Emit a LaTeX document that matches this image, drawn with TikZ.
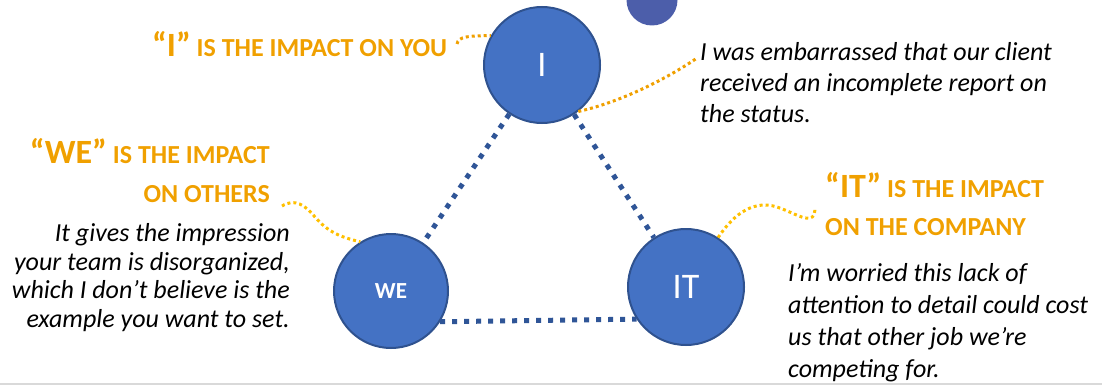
\documentclass[tikz,border=0pt]{standalone}
\usepackage{fontspec}
\setmainfont{Carlito}
\definecolor{circblue}{RGB}{68,114,196}
\definecolor{circedge}{RGB}{47,82,143}
\definecolor{cornerblue}{RGB}{76,94,170}
\definecolor{linkblue}{RGB}{47,85,151}
\definecolor{headorange}{RGB}{240,160,0}
\definecolor{linkyellow}{RGB}{255,192,0}
\newcommand{\headbig}[1]{{\fontsize{34}{36}\selectfont #1}}
\tikzset{
  bubble/.style={circle,fill=circblue,draw=circedge,line width=2pt,minimum size=116pt,inner sep=0pt,text=white},
  link/.style={draw=linkblue,line width=5pt,dash pattern=on 5pt off 7pt},
  callout/.style={line width=3pt,dash pattern=on 3pt off 3pt},
  head/.style={text=headorange,font=\bfseries\fontsize{26}{30}\selectfont,inner sep=0pt},
  quote/.style={inner sep=0pt},
}
\begin{document}
\begin{tikzpicture}[x=1pt,y=-1pt]
  \useasboundingbox (0,0) rectangle (1102,385);
  \node[bubble,fill=cornerblue,draw=none,minimum size=51pt] (corner) at (652,0) {};
  \node[bubble,font=\fontsize{36}{38}\selectfont] (i) at (542,65) {I};
  \node[bubble,font=\bfseries\fontsize{23}{24}\selectfont,minimum size=114pt] (we) at (391,291) {WE};
  \node[bubble,font=\fontsize{36}{38}\selectfont] (it) at (686,287) {IT};

  \draw[link] (i) -- (we);
  \draw[link] (i) -- (it);
  \draw[link] (we.-32) -- (it.-147);

  \node[head,anchor=base west] (youhead) at (152,57) {\headbig{“I”} IS THE IMPACT ON YOU};
  \node[head,anchor=base east] (wehead) at (270,163) {\headbig{“WE”} IS THE IMPACT};
  \node[head,anchor=base east] (wehead2) at (270,202) {ON OTHERS};
  \node[head,anchor=base west] (ithead) at (825,197) {\headbig{“IT”} IS THE IMPACT};
  \node[head,anchor=base west] (ithead2) at (825,235) {ON THE COMPANY};

  % multi-line nodes sit on the baseline of their last line
  \node[quote,align=left,anchor=base west,font=\itshape\fontsize{26}{31}\selectfont] (iquote) at (700,122)
    {I was embarrassed that our client\\received an incomplete report on\\the status.};
  \node[quote,align=right,anchor=base east,font=\itshape\fontsize{26}{28.5}\selectfont] (wequote) at (290,327)
    {It gives the impression\\your team is disorganized,\\which I don’t believe is the\\example you want to set.};
  \node[quote,align=left,anchor=base west,font=\itshape\fontsize{26}{32}\selectfont] (itquote) at (788,377)
    {I’m worried this lack of\\attention to detail could cost\\us that other job we’re\\competing for.};

  \coordinate (youtip) at (457,44);
  \coordinate (isay) at (697,58);
  \coordinate (wetip) at (282,206);
  \coordinate (ittip) at (815,207);
  \draw[callout,headorange] (youtip) .. controls (458,36) and (470,36) .. (i.150);
  \draw[callout,headorange] (i.-52) .. controls (630,100) and (680,70) .. (isay);
  \draw[callout,linkyellow] (wetip) .. controls (295,198) and (305,205) .. (315,217)
    .. controls (328,232) and (340,237) .. (we.122);
  \draw[callout,linkyellow] (it.57) .. controls (735,212) and (755,200) .. (777,207)
    .. controls (800,215) and (815,228) .. (ittip);

  \draw[gray!30,line width=3pt] (0,384) -- (1102,384);
\end{tikzpicture}
\end{document}
